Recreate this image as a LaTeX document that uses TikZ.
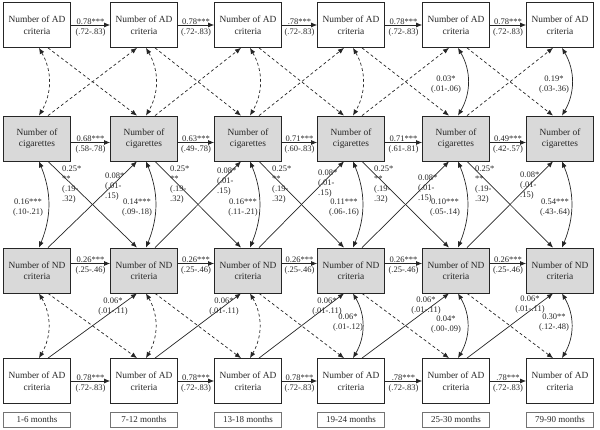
\documentclass[tikz,border=0pt]{standalone}
\usepackage{fontspec}
\setmainfont{Liberation Serif}
\usetikzlibrary{arrows.meta}
\begin{document}
\begin{tikzpicture}[x=1pt,y=-1pt,
 >={Latex[length=6pt,width=5pt]},
 box/.style={draw=black!85,line width=0.8pt,minimum width=67pt,minimum height=45pt,inner sep=0pt,align=center,font=\fontsize{9.4}{11.5}\selectfont,text=black!85},
 adbox/.style={box,fill=white},
 graybox/.style={box,fill=black!15},
 lab/.style={font=\fontsize{8.5}{10}\selectfont,align=center,inner sep=0pt,text=black!85},
 labl/.style={lab,align=left,anchor=north west},
 arr/.style={->,line width=0.7pt,draw=black!85},
 dsh/.style={dash pattern=on 3pt off 2.5pt},
 corr/.style={<->,line width=0.7pt,draw=black!85},
 month/.style={draw=black!55,line width=0.6pt,minimum width=67pt,minimum height=15pt,inner sep=0pt,font=\fontsize{9}{10}\selectfont,text=black!85}
]
\useasboundingbox (0,0) rectangle (600,430);

\foreach \i/\x/\m in {1/37/1-6,2/144/7-12,3/248/13-18,4/351/19-24,5/456/25-30,6/560/79-90} {
 \node[adbox] (T\i) at (\x,25) {Number of AD\\criteria};
 \node[graybox] (C\i) at (\x,138.5) {Number of\\cigarettes};
 \node[graybox] (N\i) at (\x,270.5) {Number of ND\\criteria};
 \node[adbox] (B\i) at (\x,381) {Number of AD\\criteria};
 \node[month] (M\i) at (\x,419.5) {\m\ months};
}

% horizontal autoregressive paths
\foreach \i/\j/\pa/\pb/\pc/\pd in {1/2/0.78/0.68/.58-.78/0.78, 2/3/0.78/0.63/.49-.78/0.78, 3/4/.78/0.71/.60-.83/0.78, 4/5/0.78/0.71/.61-.81/.78, 5/6/0.78/0.49/.42-.57/.78} {
 \draw[arr] (T\i.east) -- node[lab,yshift=-2.5pt] (ht\i) {\pa***\\(.72-.83)} (T\j.west);
 \draw[arr] ([yshift=-4pt]C\i.east) -- node[lab,yshift=-2.5pt] (hc\i) {\pb***\\(\pc)} ([yshift=-4pt]C\j.west);
 \draw[arr] ([yshift=7pt]N\i.east) -- node[lab,yshift=-2.5pt] (hn\i) {0.26***\\(.25-.46)} ([yshift=7pt]N\j.west);
 \draw[arr] (B\i.east) -- node[lab,yshift=-2.5pt] (hb\i) {\pd***\\(.72-.83)} (B\j.west);
}

% cross-lagged paths
\foreach \i/\j in {1/2,2/3,3/4,4/5,5/6} {
 \draw[arr,dsh] ([xshift=11pt]T\i.south) -- ([xshift=-7pt]C\j.north);
 \draw[arr,dsh] ([xshift=11pt]C\i.north) -- ([xshift=-7pt]T\j.south);
 \draw[arr] ([xshift=11pt]C\i.south) -- ([xshift=-7pt]N\j.north);
 \draw[arr] ([xshift=11pt]N\i.north) -- ([xshift=-7pt]C\j.south);
 \draw[arr,dsh] ([xshift=11pt]N\i.south) -- ([xshift=-7pt]B\j.north);
 \draw[arr] ([xshift=11pt]B\i.north) -- ([xshift=-7pt]N\j.south);
}

% correlations
\foreach \i in {1,2,3,4} \draw[corr,dsh] ([xshift=2pt]T\i.south) to[bend left=30] ([xshift=2pt]C\i.north);
\foreach \i in {5,6} \draw[corr] ([xshift=2pt]T\i.south) to[bend left=30] ([xshift=2pt]C\i.north);
\foreach \i in {1,...,6} \draw[corr] ([xshift=2pt]C\i.south) to[bend left=22] ([xshift=2pt]N\i.north);
\foreach \i in {1,2,3} \draw[corr,dsh] ([xshift=2pt]N\i.south) to[bend left=30] ([xshift=2pt]B\i.north);
\foreach \i in {4,5,6} \draw[corr] ([xshift=2pt]N\i.south) to[bend left=30] ([xshift=2pt]B\i.north);

% labels
\node[lab] (tc5) at (446,85) {0.03*\\(.01-.06)};
\node[lab] (tc6) at (554,85) {0.19*\\(.03-.36)};

\foreach \i/\x in {1/62,2/170,3/272,4/374,5/475}
 \node[labl] (q\i) at (\x,166) {0.25*\\**\\(.19-\\.32)};
\foreach \j/\x/\y in {2/105/173,3/217/168,4/318/170,5/418/175,6/520/172}
 \node[labl] (p\j) at (\x,\y) {0.08*\\(.01-\\.15)};
\foreach \i/\x/\a/\b in {1/28/0.16/.10-.21, 2/137/0.14/.09-.18, 3/243/0.16/.11-.21, 4/344/0.11/.06-.16, 5/445/0.10/.05-.14, 6/555/0.54/.43-.64}
 \node[lab] (r\i) at (\x,208) {\a***\\(\b)};

\foreach \j/\x/\y in {2/113/307,3/224/307,4/327/307,5/426/306,6/530/305}
 \node[lab] (s\j) at (\x,\y) {0.06*\\(.01-.11)};
\node[lab] (u4) at (348,323) {0.06*\\(.01-.12)};
\node[lab] (u5) at (446,324.5) {0.04*\\(.00-.09)};
\node[lab] (u6) at (554,323) {0.30**\\(.12-.48)};
\end{tikzpicture}
\end{document}
